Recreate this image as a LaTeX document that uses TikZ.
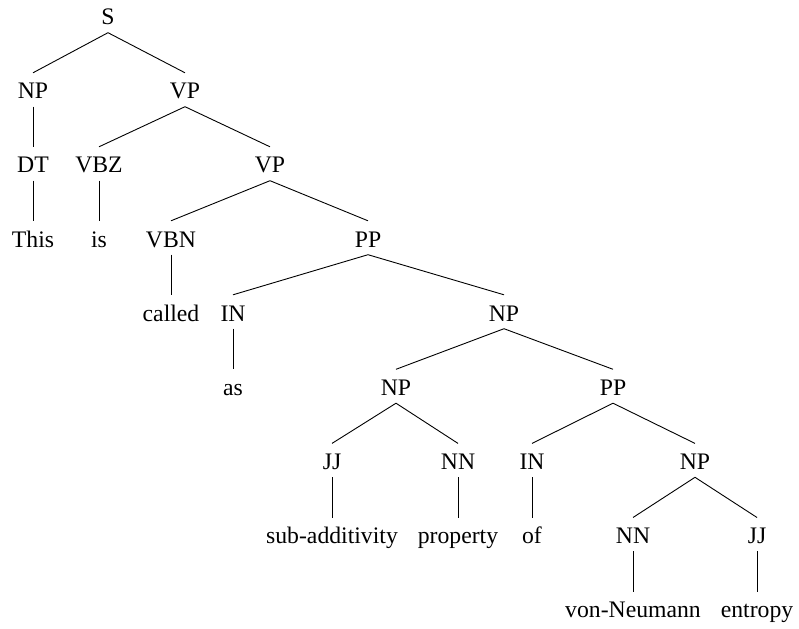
\documentclass[tikz,border=0pt]{standalone}
\usepackage{fontspec}
\setmainfont{Liberation Serif}
\begin{document}
\begin{tikzpicture}[x=1pt,y=-1pt,
  lbl/.style={anchor=base,inner xsep=0pt,inner ysep=3.75pt,text height=22.25pt,text depth=3.75pt,font=\fontsize{23.7}{28}\selectfont},
  edge/.style={draw=black,line width=0.9pt}]
\useasboundingbox (0,0) rectangle (799,628);
\def\la{25}\def\lb{99}\def\lc{173}\def\ld{247}\def\le{321}\def\lf{395.5}\def\lg{469.6}\def\lh{543.7}\def\li{617.8}
\node[lbl] (S) at (108,\la) {S};
\node[lbl] (NPa) at (33,\lb) {NP};
\node[lbl] (VPa) at (185,\lb) {VP};
\node[lbl] (DT) at (33,\lc) {DT};
\node[lbl] (VBZ) at (99,\lc) {VBZ};
\node[lbl] (VPb) at (270,\lc) {VP};
\node[lbl] (This) at (33,\ld) {This};
\node[lbl] (is) at (99,\ld) {is};
\node[lbl] (VBN) at (171,\ld) {VBN};
\node[lbl] (PPa) at (368,\ld) {PP};
\node[lbl] (called) at (171,\le) {called};
\node[lbl] (INa) at (233,\le) {IN};
\node[lbl] (NPb) at (504,\le) {NP};
\node[lbl] (as) at (233,\lf) {as};
\node[lbl] (NPc) at (396,\lf) {NP};
\node[lbl] (PPb) at (613,\lf) {PP};
\node[lbl] (JJa) at (332,\lg) {JJ};
\node[lbl] (NNa) at (458,\lg) {NN};
\node[lbl] (INb) at (532,\lg) {IN};
\node[lbl] (NPd) at (695,\lg) {NP};
\node[lbl] (sub) at (332,\lh) {sub-additivity};
\node[lbl] (prop) at (458,\lh) {property};
\node[lbl] (of) at (532,\lh) {of};
\node[lbl] (NNb) at (633,\lh) {NN};
\node[lbl] (JJb) at (757,\lh) {JJ};
\node[lbl] (von) at (633,\li) {von-Neumann};
\node[lbl] (ent) at (757,\li) {entropy};
\foreach \p/\c in {S/NPa,S/VPa,NPa/DT,VPa/VBZ,VPa/VPb,DT/This,VBZ/is,VPb/VBN,VPb/PPa,
  VBN/called,PPa/INa,PPa/NPb,INa/as,NPb/NPc,NPb/PPb,NPc/JJa,NPc/NNa,PPb/INb,PPb/NPd,
  JJa/sub,NNa/prop,INb/of,NPd/NNb,NPd/JJb,NNb/von,JJb/ent}
  \draw[edge] (\p.south) -- (\c.north);
\end{tikzpicture}
\end{document}
